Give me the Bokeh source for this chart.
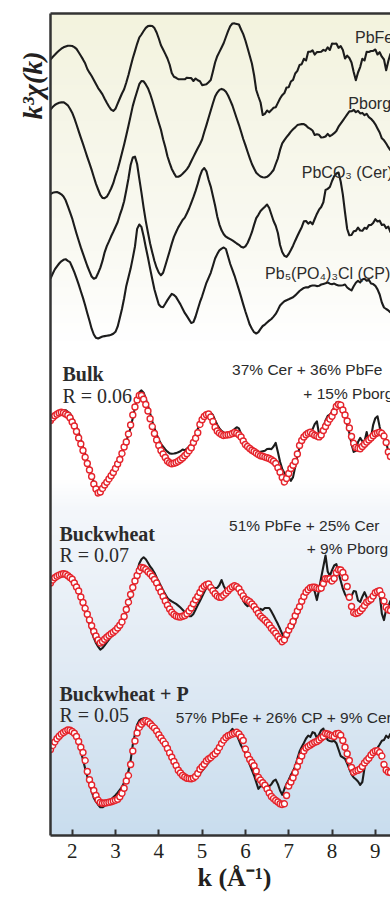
import numpy as np
from bokeh.plotting import figure
from bokeh.models import Range1d, LinearAxis, FixedTicker, Label, Title
from bokeh.embed import file_html
from bokeh.resources import INLINE

# ---------------- data ----------------
k = np.round(np.arange(1.50, 9.351, 0.05), 2)   # k grid (1/Angstrom)

pbfe = [11, 13.5, 15.7, 18, 20, 21.8, 23.2, 24, 24.8, 24.8,
        24.5, 23.4, 21.6, 18.2, 14.8, 11.1, 7.2, 1.5, -2.2, -5.5, -9.4, -13.6, -17.6, -20.6, -23.9, -28.3, -32.3, -36, -39.2, -40.4,
        -38.3, -33.2, -28, -23, -18.8, -12, -4.5, 4, 12.2, 19.4, 26.7, 33, 36, 39.5, 42.6, 44.4, 44.8, 44.5, 42.4, 38,
        32, 25.2, 21, 16.6, 12, 6, -2.5, -6.2, -7.3, -8.6, -8.7, -8.8, -8.8, -7.2, -7.5, -7.6, -10.5, -8, -9.8, -10.8,
        -14.6, -14.2, -13.8, -11.7, -9.5, -1, 8, 14.3, 18.6, 23, 27.5, 33.5, 39.3, 44.4, 47, 47.1, 46.6, 46, 41, 36.4,
        30, 22.5, 14.8, 7, -4.5, -19.5, -26, -32, -44.5, -43.3, -40, -41.8, -39.6, -37.3, -36.7, -32.4, -28, -24.7, -22.6, -17,
        -16.7, -11, -9.3, -3, -0.4, 5.5, 6.3, 11.7, 10, 18.7, 18.7, 20.2, 15.9, 18.4, 18.5, 18.7, 20.6, 19.7, 23.2, 20.5,
        26.9, 26.8, 27, 22.7, 24.4, 20.6, 12, 14.8, 12.5, 8, -1.4, -9.8, -2, 3.4, 11.8, 10, 18.8, 18.5, 19.5, 19.6,
        21, 16, 18.3, 13.8, 11, 0.2, 9.5, 17]

pborg = [31, 33.4, 35.5, 36.8, 37.7, 38.1, 38.3, 36.8, 35.2, 31.8,
         27.8, 22.3, 16, 9.4, 2.8, -3.4, -10, -16.6, -22.8, -29.4, -36.5, -43.4, -49, -54.3, -57.4, -57.6, -56.2, -52.4, -48, -42.7,
         -35.3, -29, -21, -12.5, -4, 5.2, 14.7, 24.6, 34.6, 42.3, 49.3, 56.3, 59.5, 59.2, 56.1, 52.3, 46.7, 40, 32.5, 25,
         17.7, 10.7, 1.3, -6.5, -15.7, -22.4, -28.4, -32.6, -36.3, -36.2, -35.2, -33.3, -31.1, -28.6, -25.3, -20.8, -16.4, -12, -7.8, -3.7,
         1, 8.5, 15.4, 22.8, 30, 37.2, 44, 47.9, 50.6, 51.6, 50.8, 48.7, 45, 40.1, 35, 28.5, 22, 15.7, 8.8, 1.5,
         -4.6, -11.3, -17.6, -23.5, -28, -32.2, -34.2, -36, -36.8, -37, -36.3, -34.6, -32.2, -29.5, -23.5, -17.8, -9.4, -2.8, 0.4, 3.3,
         6, 8.9, 11.2, 13.1, 15.4, 16, 16.4, 16.4, 15, 12.8, 11.6, 10, 5.5, 6.2, 5.7, 3, 3.2, 4, 6.6, 4.3,
         5.7, 7.3, 9.5, 13.8, 16.8, 19.9, 23, 26.2, 29.1, 29.2, 30.7, 28.3, 29.7, 27.1, 27.6, 25.3, 26.7, 23.3, 21.7, 19.3,
         16.2, 12, 8, 2.2, 0.2, -3, -6.7, -10]

cer = [31.5, 32.7, 33.2, 33.5, 32.5, 31.2, 29, 25.2, 19.3, 13.4,
       7.2, -0.5, -8, -15, -21.9, -28.1, -34.3, -40.5, -45.8, -51, -53.3, -52.2, -47.5, -42.4, -35.4, -26.8, -20.6, -15.9, -10.8, -6.3,
       -1.5, 3.3, 10.3, 16.6, 24.2, 35.3, 47, 60.5, 68, 68.9, 61.5, 46.9, 32.8, 17.9, 4.4, -7, -18, -26.9, -35.5, -42.2,
       -47.1, -49.8, -47.3, -40.3, -33, -25.8, -18.1, -11.4, -6.5, -1.9, 1.8, 5.5, 7.9, 12.3, 17, 22.7, 28.3, 34.6, 41.6, 49.4,
       55.1, 57.5, 54.2, 45.7, 38.9, 29.6, 20, 9.1, 0.9, -4.8, -8.7, -11.2, -12.5, -13.6, -14.9, -16.4, -18, -19.3, -21.3, -22.1,
       -20.8, -17.5, -12.5, -6.7, 0.6, 7.4, 10.7, 14.5, 16.7, 18.8, 21, 17.5, 11, 4.5, -0.2, -7.5, -19.5, -26.5, -30.3, -31.4,
       -28.5, -24.5, -20.2, -15.2, -10.5, -6, -1.7, 4.2, 4.5, 1.8, 3.6, 1.2, 6.5, 11.6, 15.8, 18.5, 23.2, 35.5, 36.6, 38.5,
       44.5, 49.4, 52, 53, 44, 30.8, 13, -3.5, -9.8, -9.5, -5.8, -5.4, -2.2, -5, -5.3, -2.3, -3.3, 0.4, 0.5, 2.6,
       6.3, 4, 4.8, 0.5, 1, -2.6, -1.2, -7]

cp = [17, 21.8, 26.1, 29.2, 32, 34.2, 35.7, 36.3, 34.7, 33.4,
      28.5, 23.4, 17.4, 11.1, 4.2, -2.4, -9.7, -17.8, -25.3, -33.2, -39, -42.3, -43, -42, -41, -40.6, -40.2, -39.9, -39.3, -38.2,
      -36.3, -31.2, -22.6, -13.5, -2.8, 9.6, 18.2, 26.9, 37.6, 49, 66.6, 71, 68.6, 59.3, 48.2, 38, 26.9, 16.2, 6, -1.6,
      -9, -11.3, -11.7, -8.3, -4.6, -1.4, 1.7, 0.5, -1.6, -5.3, -8.9, -13.2, -17.4, -20.7, -24.1, -27.5, -26.6, -21, -13.7, -6.7,
      -0.8, 6, 12.7, 17.6, 22.7, 29.8, 37, 41.4, 45.2, 46.8, 48, 46.5, 39, 31.5, 25.6, 19.7, 12.8, 5.9, -1.4, -8.9,
      -16, -22.5, -29.1, -33.2, -36.7, -38, -36.6, -33.3, -30.5, -29.1, -27, -25.1, -23.5, -21.1, -18.4, -14.4, -10, -7.8, -5.8, -4.7,
      -3.8, -2.8, -1.8, 0.1, 2.3, 4.5, 6.1, 7.6, 8.2, 8.1, 9.5, 10, 10, 9.4, 9.7, 11, 11.6, 12.2, 13, 11.8,
      11.3, 11.9, 10.8, 10, 10, 10.3, 11, 8, 6.3, 5.1, 9.2, 12.7, 14.7, 13, 16.1, 16.8, 14.7, 15.8, 12, 11.4,
      9.7, 6.1, 1, -7, -12, -13.5, -14.9, -17]

bulk = [26, 28.3, 30.7, 32.3, 33.8, 34.8, 35.3, 35.3, 33.7, 32.2,
        28, 23.5, 18.6, 13.3, 6.1, -1.3, -8.2, -14.9, -21.9, -29.6, -36.9, -42.5, -47.6, -47.3, -44.7, -40.9, -37.1, -33.2, -29.3, -25.2,
        -20.5, -16.1, -11.9, -7.9, -1.7, 4.4, 11, 17.9, 27.6, 38.2, 46.9, 53.2, 55.1, 52.8, 46.6, 39.9, 32.3, 24.3, 17.3, 11.2,
        5.8, 1.7, -1.2, -3.9, -6.2, -7.9, -8.2, -8, -7.6, -6.7, -5.8, -4, -4.8, -3.2, -1, 1.2, 5.5, 10.4, 16.6, 21.6,
        26, 29, 30.9, 32.5, 32.6, 30.4, 25.4, 20.7, 17.1, 14.5, 13.1, 12.1, 11.8, 11.7, 14.3, 16.4, 18.3, 17.1, 11.7, 6.7,
        2.5, -0.8, -2.8, -4.8, -5.8, -6.7, -6.8, -6.3, -5.8, -5.3, -3.5, -3.2, -3.6, -1, 2.6, -6.4, -16.3, -23.4, -27.6, -30,
        -31.9, -35.3, -31.6, -21.4, -10.5, -1.8, 7.6, 10.8, 14, 14.7, 15, 16.2, 21.3, 24.2, 11.5, 11.9, 19.1, 25, 29.5, 30.9,
        33.7, 38.2, 43.1, 42.6, 37.4, 37.6, 31, 20.7, 12.5, 1.4, -6.4, -5.4, 3.5, 7.6, 4.2, 4, 13.5, 3.2, 8, 20.7,
        27.3, 29.2, 18.6, 10.3, 13, 4.1, -7, -12]

bulk_fit = [25, 27.5, 29.7, 31.2, 32.5, 33.2, 32.8, 31.5, 30.2, 27.8,
            23.5, 19.5, 14, 7.5, 1.5, -5, -11.7, -18, -24.5, -31, -38.5, -43.5, -47.5, -46.5, -43, -39.5, -36.7, -33.5, -30.2, -27,
            -23, -18.5, -14, -8, -1.5, 3.5, 11.5, 20.5, 30.5, 38.5, 45.5, 50, 50, 46.2, 41, 34.5, 26.7, 19, 12, 5.5,
            0, -5, -8.5, -12, -15.5, -17.3, -18.3, -17.8, -17, -15.8, -14.3, -12.5, -10.3, -8.2, -5.3, -2.3, 3, 7.2, 12.7, 21,
            25.7, 29, 30.8, 31.5, 28.5, 24, 18.3, 14.5, 12.5, 11, 10, 10.4, 10.7, 11, 12, 13, 12.2, 10.8, 8.5, 4.5,
            1, -1, -3, -4.8, -6, -7.5, -9, -10.2, -10.8, -11.6, -12.3, -13, -14.3, -15.8, -18, -22.3, -26.7, -32, -36.5, -33,
            -28, -23, -19.7, -16, -8.5, 0, 5, 8.5, 10.7, 12.2, 13.2, 11.7, 10.2, 9.4, 8.6, 10.5, 15, 19, 23, 26.4,
            29.2, 33.5, 39, 41, 40.4, 35.5, 30.5, 24.5, 17.5, 9, 2.2, -1.9, -2.7, -3.2, -1, 1.2, 3.4, 5.5, 7.5, 9.7,
            11.7, 12.5, 13.2, 12.2, 9.5, 3, -6.5, -11]

buck = [23.6, 26.2, 28.7, 30.3, 31.8, 32.7, 33, 33.1, 32.1, 31.1,
        28.6, 26, 21.6, 15.7, 9.7, 3.5, -3.5, -11.1, -18.6, -26.3, -32.3, -37.5, -41.2, -44.2, -42.5, -39.9, -36.8, -34, -31.3, -28.7,
        -26.5, -23.5, -19.4, -15.3, -10.7, -6.1, 0.9, 8.7, 16.3, 24.7, 34, 42.1, 46.3, 48.2, 46.2, 42.8, 39, 36.3, 32.8, 28,
        23.6, 19.4, 15.1, 11.2, 7.4, 5.5, 4.1, 2.8, 1.6, -0.1, -2, -4.2, -6.6, -8.7, -10.8, -10.6, -8.4, -4, 0.4, 4.6,
        9, 13.4, 17.7, 20.4, 20.8, 18.3, 17.3, 17.7, 20.5, 25.5, 19.6, 15.4, 16.3, 17.8, 19.3, 19.6, 18, 14.8, 10.3, 4.6,
        1.3, -0.7, 0.8, 0.1, -2, -3.8, -4.8, -3.3, -4.6, -2.5, -2.5, -2.5, -5.9, -10, -14.4, -18.6, -23.3, -28.4, -32.4, -34.7,
        -28.9, -23.2, -21.9, -15.6, -9.3, -3.1, 2.9, 8.7, 13.5, 17, 18.9, 18.5, 13.9, 5.4, 15.5, 28, 39, 50, 34, 29.6,
        35.4, 40, 41.4, 32.5, 24.8, 16.8, 11.3, 7.8, 5.7, 9.5, 14.4, 13.9, 5, 3.5, 8.8, 13.4, 8.3, 2, 4, 6.6,
        12.4, 11.5, 11.6, -8.1, -14.6, -3.5, -0.8, 5]

buck_fit = [22.5, 25.5, 27.7, 29.2, 30.4, 31.2, 31.7, 31.2, 29.7, 28,
            26.2, 22.5, 18.5, 14.5, 8.5, 3, -2.8, -8.8, -14.4, -20.2, -26, -30.5, -34.5, -37.5, -36, -33.8, -31.7, -30, -28.2, -26.8,
            -25, -22.5, -19.8, -16.5, -11, -4, 3.3, 11, 18, 24.5, 30, 34.7, 38, 37.5, 36, 33.8, 31.7, 29.2, 26, 22.5,
            17.5, 13.5, 9, 4.5, 0.3, -3.5, -6.7, -9, -10.5, -11.3, -11.6, -10.8, -10, -8.2, -5.5, -2.5, 1.7, 5.7, 9, 13,
            17, 19.3, 20.7, 21.5, 18, 14.7, 11.7, 9.4, 8.3, 8.3, 10.3, 12.4, 14.7, 16.8, 18.5, 19.8, 18.8, 16.8, 13, 9.6,
            6.5, 5.4, 3.7, 1.5, -1, -4.3, -7.8, -10.7, -12.7, -14.8, -17, -19.5, -22.8, -25.2, -27.7, -31, -33.5, -36.2, -34.3, -29,
            -24.5, -20.5, -16, -10.3, -5.5, -1.3, 4.2, 9, 13.3, 15.7, 17.8, 18.2, 18.3, 17.4, 16.7, 17.4, 22, 26.7, 26.7, 26.7,
            24.5, 27, 32.7, 35.7, 35.5, 33, 28, 19, 8.3, -1, -7, -8.1, -7.2, -5.5, -3, 0, 3.3, 4.7, 6.2, 9.4,
            12.8, 14, 14.8, 10.5, 4.5, -1.8, -4.3, -5]

buckp = [18, 21.6, 25.1, 28.2, 30.8, 32.6, 34.1, 34.8, 35.4, 35.1,
         33.9, 31.5, 28.1, 22, 14.2, 5.8, -3, -10.9, -18.4, -25.7, -32.4, -36.1, -39.2, -41.7, -41.8, -40.3, -38.3, -36.2, -34, -31.8,
         -29.7, -27.2, -24.4, -21.5, -17, -11.8, -5.7, 5.2, 20.8, 31.6, 40.7, 45.1, 46.5, 47.2, 47.3, 46.1, 44.5, 42.7, 40.1, 37.2,
         33.7, 30, 25.2, 19.9, 14.3, 9.6, 5.8, 2, -2.2, -6.5, -8.7, -10.8, -13, -14.1, -15.1, -15.2, -14.3, -12.8, -10.5, -8.1,
         -5.4, -2.7, 0.1, 3, 5.9, 8.8, 11.7, 14.9, 18, 21.4, 24.9, 28.2, 31.5, 33.9, 36.7, 34, 30.5, 25.5, 20, 16.1,
         12.4, 7.6, 0.9, -4.5, -10, -16.8, -23.3, -20.6, -21.1, -21, -19.3, -20.8, -18.7, -15.4, -14.1, -18.6, -25, -29.3, -23.5, -18.5,
         -14.4, -9.4, -5.4, -1, 6.6, 14, 18.5, 22.6, 27, 29.8, 28.6, 33.3, 32.5, 27.5, 31, 35.2, 37, 29.4, 25.4, 24.5,
         24, 24.7, 22.3, 16, 9.5, 8.1, 6.7, 1.9, -3.3, -8.8, -12, -13.8, -16, -19.4, -16.5, -2.5, 5.7, 10.8, 11.2, 10.6,
         13.5, 17.7, 21, 24.7, 25.5, 29.9, 27.6, 32]

buckp_fit = [16, 20, 23.5, 26.8, 29.2, 31.4, 33, 34.4, 35.5, 35.2,
             34, 32.3, 29, 24, 18.3, 13, 5, -6, -14.3, -19.5, -25, -30, -34.5, -37, -37.7, -37.5, -37.3, -36.8, -36.2, -35.5,
             -34.8, -33.7, -31.3, -27.8, -22.7, -15.5, -10, 1, 14.5, 24.5, 32.5, 38, 41.3, 43.5, 44.7, 43.7, 41.7, 39.5, 37.4, 34.5,
             30.7, 27.5, 24.5, 21.4, 17, 12.6, 8.3, 4, 0, -4.8, -7.5, -10, -11.5, -12.7, -13.1, -13.3, -12.6, -11, -8, -3.8,
             -1.3, 1.2, 4.5, 6.5, 7.8, 10, 11.7, 14.5, 18, 22, 25.4, 28, 29.8, 30.5, 31.4, 32.2, 33.3, 31.5, 28.5, 25,
             16.5, 10.5, 6, 3, -0.2, -5.5, -11.7, -14.5, -17.2, -19.8, -23.5, -27.5, -31, -33.1, -35, -36.5, -38.3, -39, -38.3, -30,
             -20.5, -16.5, -12.3, -7, -1, 4.5, 9.5, 14.5, 17.5, 19, 20.5, 22, 23.2, 24, 25.5, 27.5, 29, 32, 31.5, 30.5,
             29.7, 29, 31.7, 32, 30.2, 25, 18.3, 11.7, 5, -2, -6.7, -5.5, -4.8, -3.5, -1, 2.5, 5, 7.2, 10.5, 13,
             14.5, 14.7, 13, 9.5, 1, -4.5, -6.5, -7]

# vertical stacking offsets of each spectrum
ref_values = [pbfe, pborg, cer, cp]
ref_offsets = [765, 695, 610, 540]

sample_values = [bulk, buck, buckp]
fit_values = [bulk_fit, buck_fit, buckp_fit]
sample_offsets = [390, 230, 70]

x_ticks = [2, 3, 4, 5, 6, 7, 8, 9]

for arr in ref_values + sample_values + fit_values:
    assert len(arr) == len(k), len(arr)

# ---------------- figure ----------------
p = figure(width=390, height=897, x_range=Range1d(1.5, 9.35), y_range=Range1d(0, 822),
           output_backend="svg", toolbar_location=None,
           min_border_left=50, min_border_right=0, min_border_top=13, min_border_bottom=62)
p.outline_line_color = None
p.xgrid.visible = False
p.ygrid.visible = False
p.background_fill_color = "white"
p.border_fill_color = "white"

# gradient background (cream at top -> white -> light blue at bottom)
H = 822
py = 835 - np.arange(H) - 0.5
sy = [13, 120, 250, 340, 480, 510, 650, 835]
sr = [243, 246, 250, 255, 255, 244, 227, 201]
sg = [243, 246, 250, 255, 255, 247, 236, 221]
sb = [222, 232, 243, 255, 255, 251, 245, 238]
img = np.empty((H, 1), dtype=np.uint32)
view = img.view(dtype=np.uint8).reshape((H, 1, 4))
view[:, 0, 0] = np.interp(py, sy, sr).astype(np.uint8)
view[:, 0, 1] = np.interp(py, sy, sg).astype(np.uint8)
view[:, 0, 2] = np.interp(py, sy, sb).astype(np.uint8)
view[:, 0, 3] = 255
p.image_rgba(image=[img], x=1.5, y=0, dw=7.85, dh=822)

LINE = "#1c1c1c"
RED = "#e5242c"

for vals, off in zip(ref_values, ref_offsets):
    p.line(k, np.array(vals) + off, line_color=LINE, line_width=2.1, line_join="round")

for vals, fit, off in zip(sample_values, fit_values, sample_offsets):
    p.line(k, np.array(vals) + off, line_color=LINE, line_width=2.1, line_join="round")
    p.scatter(k, np.array(fit) + off, marker="circle", size=6, line_color=RED,
              line_width=1.4, fill_color="white")

# axes
xa = p.xaxis[0]
xa.ticker = FixedTicker(ticks=x_ticks)
xa.minor_tick_line_color = None
xa.major_tick_in = 6
xa.major_tick_out = 0
xa.major_tick_line_width = 2
xa.major_tick_line_color = "#333333"
xa.axis_line_width = 2.5
xa.axis_line_color = "#333333"
xa.major_label_text_font = "Liberation Serif"
xa.major_label_text_font_size = "21px"
xa.major_label_text_color = "#231f20"
xa.major_label_standoff = 8

ya = p.yaxis[0]
ya.ticker = FixedTicker(ticks=[])
ya.major_label_text_font_size = "0px"
ya.major_tick_line_color = None
ya.minor_tick_line_color = None
ya.axis_line_width = 2.5
ya.axis_line_color = "#333333"

top = LinearAxis(ticker=FixedTicker(ticks=[]), major_label_text_font_size="0px",
                 major_tick_line_color=None, minor_tick_line_color=None,
                 axis_line_width=2.5, axis_line_color="#333333")
p.add_layout(top, "above")

# axis titles as positioned titles (outside the frame)
ytitle = Title(text="k³χ(k)", align="left", offset=716, standoff=6,
               text_font="Liberation Serif", text_font_style="bold italic",
               text_font_size="28px", text_color="#231f20")
p.add_layout(ytitle, "left")
xtitle = Title(text="k (Å⁻¹)", align="left", offset=147, standoff=0,
               text_font="Liberation Serif", text_font_style="bold",
               text_font_size="26px", text_color="#231f20")
p.add_layout(xtitle, "below")

SANS = "Liberation Sans"
SERIF = "Liberation Serif"
TXT = "#2b2b2b"

def lab(x, y, text, font=SANS, size="15.5px", style="normal"):
    p.add_layout(Label(x=x, y=y, text=text, text_font=font, text_font_size=size,
                       text_font_style=style, text_color=TXT, text_align="left",
                       text_baseline="alphabetic"))

# reference labels
lab(8.531, 797.7, "PbFe", size="16px")
lab(8.377, 732, "Pborg", size="16px")
lab(7.301, 663.3, "PbCO₃ (Cer)", size="16px")
lab(6.454, 561.7, "Pb₅(PO₄)₃Cl (CP)", size="16px")

# sample labels
lab(1.776, 461.7, "Bulk", font=SERIF, size="20px", style="bold")
lab(1.776, 440, "R = 0.06", font=SERIF, size="20px")
lab(5.692, 465.7, "37% Cer + 36% PbFe")
lab(7.338, 441.7, "+ 15% Pborg")

lab(1.707, 301.7, "Buckwheat", font=SERIF, size="20px", style="bold")
lab(1.707, 281, "R = 0.07", font=SERIF, size="20px")
lab(5.623, 310, "51% PbFe + 25% Cer")
lab(7.416, 286.7, "+ 9% Pborg")

lab(1.707, 141.7, "Buckwheat + P", font=SERIF, size="20px", style="bold")
lab(1.707, 121, "R = 0.05", font=SERIF, size="20px")
lab(4.393, 118.3, "57% PbFe + 26% CP + 9% Cer")

open("out.html", "w").write(file_html(p, INLINE, title="k3chi"))
